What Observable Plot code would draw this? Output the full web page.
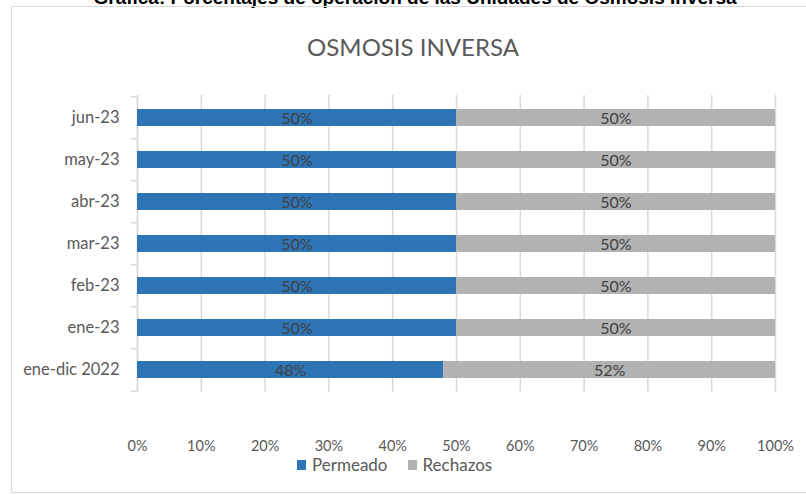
<!DOCTYPE html>
<html>
<head>
<meta charset="utf-8">
<script src="https://cdn.jsdelivr.net/npm/d3@7"></script>
<script src="https://cdn.jsdelivr.net/npm/@observablehq/plot@0.6"></script>
<style>
  html, body { margin: 0; padding: 0; background: #fff; }
  #wrap { position: relative; width: 806px; height: 495px; overflow: hidden; font-family: Lato, "Open Sans", sans-serif; }
  #frame { position: absolute; left: 11px; top: 6px; width: 820px; height: 487px; border: 1.5px solid #d9d9d9; box-sizing: border-box; }
  #cut { position: absolute; left: 0; width: 830px; top: -12px; text-align: center; font: bold 19px "Liberation Sans", Arial, sans-serif; color: #000; line-height: 19px; white-space: nowrap; }
  #title { position: absolute; left: 0; width: 826px; top: 35px; text-align: center; font-size: 24px; line-height: 24px; color: #595959; }
  #chart { position: absolute; left: 0; top: 0; }
  #legend { position: absolute; left: 297px; top: 455px; font-size: 17px; line-height: 20px; color: #595959; display: flex; align-items: center; white-space: nowrap; }
  #legend .sw { display: inline-block; width: 9px; height: 10px; margin-right: 6px; }
  #legend .item { display: flex; align-items: center; margin-right: 20px; }
</style>
</head>
<body>
<div id="wrap">
  <div id="cut">Gráfica: Porcentajes de operación de las Unidades de Ósmosis Inversa</div>
  <div id="frame"></div>
  <div id="title">OSMOSIS INVERSA</div>
  <div id="chart"></div>
  <div id="legend"></div>
</div>
<script>
const categories = ["ene-dic 2022", "ene-23", "feb-23", "mar-23", "abr-23", "may-23", "jun-23"];
const seriesNames = ["Permeado", "Rechazos"];
const permeado = [0.48, 0.50, 0.50, 0.50, 0.50, 0.50, 0.50];
const rechazos = [0.52, 0.50, 0.50, 0.50, 0.50, 0.50, 0.50];
const xTicks = [0, 0.1, 0.2, 0.3, 0.4, 0.5, 0.6, 0.7, 0.8, 0.9, 1.0];
const colors = ["#2E75B6", "#B2B2B2"];

const data = [];
categories.forEach((c, i) => {
  data.push({cat: c, serie: seriesNames[0], value: permeado[i]});
  data.push({cat: c, serie: seriesNames[1], value: rechazos[i]});
});
const yDomain = categories.slice().reverse();
const pct = d3.format(".0%");
const font = 'Lato, "Open Sans", sans-serif';

const chart = Plot.plot({
  width: 806,
  height: 495,
  marginLeft: 137,
  marginRight: 31,
  marginTop: 95,
  marginBottom: 103,
  style: {fontFamily: font, fontSize: "16px", color: "#595959", background: "transparent", overflow: "visible"},
  x: {domain: [0, 1], ticks: xTicks, tickFormat: pct, label: null},
  y: {domain: yDomain, paddingInner: 0.6, paddingOuter: 0.3, label: null},
  color: {domain: seriesNames, range: colors},
  marks: [
    Plot.gridX(xTicks, {stroke: "#d9d9d9", strokeOpacity: 1, strokeWidth: 1.5}),
    Plot.ruleX([0], {stroke: "#d9d9d9", strokeWidth: 1.5}),
    Plot.ruleY(yDomain, {y: d => d, x1: -0.01, x2: 0, dy: -21.2, stroke: "#d9d9d9", strokeWidth: 1.5}),
    Plot.ruleY([yDomain[yDomain.length - 1]], {y: d => d, x1: -0.01, x2: 0, dy: 21.2, stroke: "#d9d9d9", strokeWidth: 1.5}),
    Plot.barX(data, {x: "value", y: "cat", fill: "serie", order: seriesNames}),
    Plot.text(data, Plot.stackX({x: "value", y: "cat", z: "serie", order: seriesNames, text: d => pct(d.value), fill: "#404040", fontSize: 16, dy: 1})),
    Plot.axisX({ticks: xTicks, tickFormat: pct, tickSize: 0, tickPadding: 48, fill: "#595959", fontSize: 14.5, label: null}),
    Plot.axisY({tickSize: 0, tickPadding: 18, fill: "#595959", fontSize: 16.5, label: null})
  ]
});
document.getElementById("chart").appendChild(chart);

const legend = document.getElementById("legend");
seriesNames.forEach((s, i) => {
  const item = document.createElement("span");
  item.className = "item";
  const sw = document.createElement("span");
  sw.className = "sw";
  sw.style.background = colors[i];
  item.appendChild(sw);
  item.appendChild(document.createTextNode(s));
  legend.appendChild(item);
});
</script>
</body>
</html>
